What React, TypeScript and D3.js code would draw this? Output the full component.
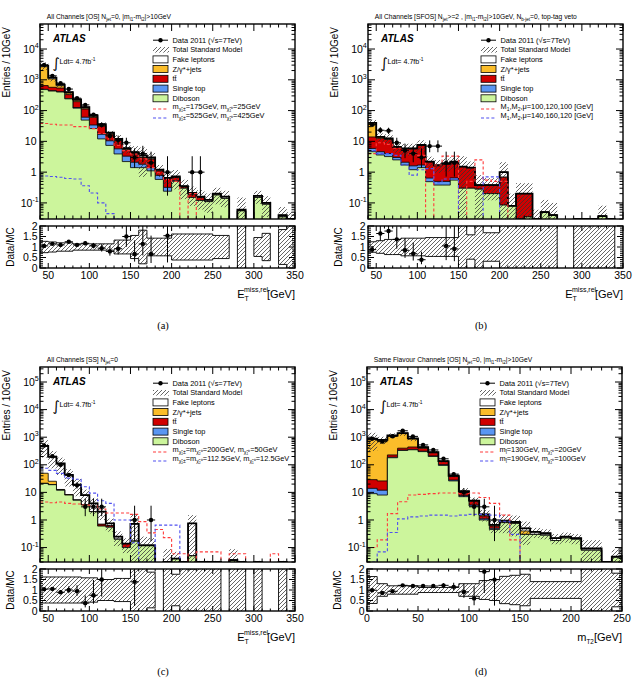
import React from 'react';
import * as d3 from 'd3';

const FONT = '"Liberation Sans", Arial, Helvetica, sans-serif';
const SERIF = '"Liberation Serif", "DejaVu Serif", serif';
const BIN = 10;

const FILL = {
  diboson: '#ccf59c',
  singletop: '#5a96f2',
  ttbar: '#d00000',
  zjets: '#fbbd2a',
  fake: '#ffffff',
};
const SIG1 = '#ff3b3b';
const SIG2 = '#5050f0';

// ---------- (a) All channels OS, Njet=0 : E_T^miss,rel, 40..350 GeV ----------
const aDiboson = [480, 430, 400, 240, 120, 49, 26, 12, 7.4, 3.9, 2.2, 1.4, 1.4, 1.1, 0.58, 0.24, 0.5, 0.3, 0.15, 0.12, 0.11, 0.18, 0.14, 0, 0.055, 0, 0.15, 0.09, 0, 0.035, 0.005];
const aSingleTop = [10, 10, 9, 7, 6, 12, 8, 5, 3, 1.8, 1.1, 0.7, 0.4, 0.3, 0.2, 0.08, 0.03, 0, 0, 0, 0, 0, 0, 0, 0, 0, 0, 0, 0, 0, 0];
const aTtbar = [160, 130, 131, 83, 69, 51, 26, 14, 6.1, 4.8, 2.0, 1.9, 1.2, 1.25, 0.32, 0.28, 0.14, 0.03, 0.04, 0.03, 0, 0, 0, 0, 0, 0, 0, 0, 0, 0, 0];
const aZjets = [2000, 500, 100, 40, 20, 8, 4, 2, 1, 0.5, 0.2, 0.1, 0.1, 0.05, 0, 0, 0, 0, 0, 0, 0, 0, 0, 0, 0, 0, 0, 0, 0, 0, 0];
const aFake = [250, 100, 60, 30, 15, 10, 6, 3, 1.5, 1, 0.5, 0.4, 0.4, 0.3, 0.1, 0.05, 0.05, 0.02, 0.02, 0.01, 0.015, 0.02, 0.02, 0, 0.005, 0, 0.02, 0.01, 0, 0.005, 0.005];
const aRel = [0.27, 0.24, 0.2, 0.2, 0.15, 0.15, 0.15, 0.15, 0.15, 0.33, 0.33, 0.55, 0.8, 0.42, 0.42, 0.42, 0.62, 0.62, 0.62, 0.62, 0.62, 0.55, 0.55, 0, 1.5, 0, 0.45, 0.65, 0, 0.83, 4];
const aData = [3050, 1345, 770, 500, 253, 153, 74, 34, 15, 11, 9, 3, 4, 2, 0, 1, 0, 0, 1, 1, 0, 0, 0, 0, 0, 0, 0, 0, 0, 0, 0];
const aSig1 = [38, 36, 34, 34, 30, 30, 26, 18, 12, 7.4, 5, 3.9, 2.7, 1.4, 0.95, 0.58, 0.5, 0, 0.2, 0, 0, 0, 0, 0, 0, 0, 0, 0, 0, 0, 0];
const aSig2 = [0.75, 0.72, 0.68, 0.62, 0.6, 0.36, 0.21, 0.1, 0.045, 0.02, 0, 0, 0, 0, 0, 0, 0, 0, 0, 0, 0, 0, 0, 0, 0, 0, 0, 0, 0, 0, 0];

// ---------- (b) SFOS, Njet>=2 : E_T^miss,rel ----------
const bDiboson = [4.6, 3.6, 3.2, 2.5, 1.7, 1.2, 1.4, 0.49, 0.38, 0.38, 0.55, 0.3, 0.3, 0.28, 0.2, 0.2, 0.085, 0.08, 0.03, 0.035, 0, 0.05, 0.04, 0, 0, 0, 0, 0, 0.037, 0, 0];
const bSingleTop = [1.3, 1.0, 0.8, 0.5, 0.4, 0.4, 0.3, 0.15, 0.12, 0.12, 0.1, 0, 0, 0, 0, 0, 0, 0, 0, 0, 0, 0, 0, 0, 0, 0, 0, 0, 0, 0, 0];
const bTtbar = [8, 8, 7.5, 3.3, 3.6, 4.1, 5.7, 1.5, 1.1, 1.3, 1.45, 1.2, 1.1, 0.1, 0.18, 0.18, 0.6, 0, 0.17, 0.165, 0, 0, 0, 0, 0, 0, 0, 0, 0, 0, 0];
const bZjets = [26, 1.2, 0.8, 0.2, 0.1, 0, 0, 0, 0, 0, 0, 0, 0, 0, 0, 0, 0, 0, 0, 0, 0, 0, 0, 0, 0, 0, 0, 0, 0, 0, 0];
const bFake = [0.1, 0.2, 0.2, 0.1, 0.1, 0.2, 0.2, 0.06, 0.1, 0.1, 0.1, 0, 0, 0, 0, 0, 0.315, 0, 0, 0, 0.01, 0, 0, 0, 0, 0.005, 0.005, 0.005, 0, 0.005, 0];
const bRel = [0.25, 0.3, 0.36, 0.36, 0.42, 0.42, 0.42, 0.45, 0.45, 0.45, 0.45, 1.2, 0.58, 1.1, 0.68, 0.68, 1.1, 1.5, 1.2, 1.2, 5, 1.5, 1.5, 0, 0, 5, 5, 5, 1.2, 5, 0];
const bData = [35, 23, 22, 9, 5, 4, 3, 7, 7, 2, 2, 0, 0, 0, 0, 0, 0, 0, 0, 0, 0, 0, 0, 0, 0, 0, 0, 0, 0, 0, 0];
const bSig1 = [4, 9, 8, 6, 5, 4, 3.5, 0, 1.7, 3.3, 3.3, 0, 0.5, 2.5, 0.55, 0.5, 0.5, 0, 0, 0, 0, 0, 0, 0, 0, 0, 0, 0, 0, 0, 0];
const bSig2 = [5, 4, 4, 3.5, 1.7, 0.8, 1.2, 1.3, 0.45, 0.6, 0.6, 0, 0, 0, 0.7, 0.7, 0, 0, 0, 0, 0, 0, 0, 0, 0, 0, 0, 0, 0, 0, 0];

// ---------- (c) SS, Njet=0 : E_T^miss,rel ----------
const cDiboson = [21, 19, 12, 8, 5.2, 3.5, 2, 0.6, 0.55, 0.2, 0.1, 0.17, 0.12, 0.12, 0, 0, 0.04, 0, 0.05, 0, 0, 0, 0, 0.035, 0, 0, 0, 0, 0, 0, 0];
const cSingleTop = [0.1, 0.1, 0.05, 0.05, 0, 0, 0, 0, 0, 0, 0, 0, 0, 0, 0, 0, 0, 0, 0, 0, 0, 0, 0, 0, 0, 0, 0, 0, 0, 0, 0];
const cTtbar = [0.3, 0.2, 0.2, 0.1, 0.1, 0, 0, 0.1, 0.08, 0, 0.04, 0, 0, 0, 0, 0, 0, 0, 0, 0, 0, 0, 0, 0, 0, 0, 0, 0, 0, 0, 0];
const cZjets = [28, 6, 0.5, 0, 0, 0, 0, 0, 0, 0, 0, 0, 0, 0, 0, 0, 0, 0, 0, 0, 0, 0, 0, 0, 0, 0, 0, 0, 0, 0, 0];
const cFake = [430.6, 169.7, 99.25, 34.85, 13.7, 4.5, 2, 1.3, 0.12, 0.05, 0, 0.55, 0, 0, 0, 0.008, 0, 0.003, 0.7, 0.003, 0.003, 0.003, 0, 0, 0.003, 0, 0.003, 0, 0, 0.003, 0];
const cRel = [0.62, 0.62, 0.62, 0.62, 0.62, 0.58, 0.58, 0.5, 0.5, 0.55, 0.55, 1.2, 1.1, 0.85, 0, 10, 0.75, 10, 1.0, 10, 10, 10, 0, 1.5, 10, 0, 10, 0, 0, 10, 0];
const cData = [500, 205, 100, 43, 18, 3, 3, 3, 0, 0, 0, 1, 0, 1, 0, 0, 0, 0, 0, 0, 0, 0, 0, 0, 0, 0, 0, 0, 0, 0, 0];
const cSig1 = [4.5, 4.2, 4.5, 4, 3.8, 3.5, 3.2, 2.5, 1.8, 1.8, 1.8, 1.6, 0.87, 0.34, 0.45, 0.23, 0.06, 0.06, 0, 0.07, 0.07, 0.07, 0, 0.06, 0.06, 0, 0, 0, 0.06, 0, 0];
const cSig2 = [75, 63, 49, 33, 30, 16, 9.4, 5, 4, 1, 1, 0.15, 0.02, 0.02, 0.65, 0.65, 0.65, 0, 0, 0, 0, 0, 0, 0, 0, 0, 0, 0, 0, 0, 0];

// ---------- (d) SF OS, Njet=0 : m_T2, 0..250 GeV ----------
const dDiboson = [9, 8, 180, 330, 350, 300, 200, 95, 26, 7, 3.2, 1.0, 0.45, 0.8, 0.75, 0.3, 0.3, 0.28, 0.18, 0.22, 0.2, 0.08, 0.08, 0, 0.045];
const dSingleTop = [5, 4, 8, 10, 12, 12, 10, 6, 2, 0.6, 0.3, 0.1, 0.05, 0, 0, 0, 0, 0, 0, 0, 0, 0, 0, 0, 0];
const dTtbar = [15, 14, 40, 60, 80, 80, 60, 30, 10, 3, 1.3, 0.3, 0.1, 0.05, 0.05, 0, 0, 0, 0, 0, 0, 0, 0, 0, 0];
const dZjets = [800, 725, 900, 950, 420, 30, 10, 2, 1, 0.2, 0, 0, 0, 0, 0, 0.1, 0, 0, 0, 0, 0, 0, 0, 0, 0];
const dFake = [51, 49, 22, 50, 38, 18, 10, 2, 1, 0.2, 0.2, 0.2, 0.07, 0.1, 0.05, 0.1, 0.07, 0.05, 0.04, 0.03, 0.02, 0.013, 0.013, 0.005, 0.002];
const dRel = [0.64, 0.3, 0.2, 0.2, 0.2, 0.12, 0.12, 0.12, 0.12, 0.3, 0.3, 0.45, 0.5, 0.65, 0.7, 0.75, 0.4, 0.4, 0.4, 0.4, 0.4, 1.0, 1.0, 3, 0.8];
const dData = [870, 690, 1080, 1710, 1070, 525, 345, 165, 46, 10, 3, 3, 1, 0, 0, 0, 0, 0, 0, 0, 0, 0, 0, 0, 0];
const dSig1 = [0.1, 0.19, 1.7, 4.6, 8, 8.5, 9, 9.5, 9.5, 9, 9.5, 6.5, 4, 1.5, 0.19, 0, 0, 0, 0, 0, 0, 0, 0, 0, 0];
const dSig2 = [0.02, 0.07, 0.35, 1.1, 1.3, 1.4, 1.5, 1.5, 1.4, 1.5, 1.6, 1.6, 1.5, 0.9, 0.3, 0, 0, 0, 0, 0, 0, 0, 0, 0, 0];

type Seg = string | { sub?: string; sup?: string };

const LEGEND_MAIN = ['Data 2011 (\u221As=7TeV)', 'Total Standard Model', 'Fake leptons', 'Z/\u03B3*+jets', 't\u0074\u0304', 'Single top', 'Diboson'];
const LEGEND_KEYS = ['', '', 'fake', 'zjets', 'ttbar', 'singletop', 'diboson'];

const panels = [
  {
    id: 'a', L: 40, R: 295, T: 24, B: 219, RT: 226, RB: 268, xMin: 40, xMax: 350, yMin: 0.03, yMax: 6.5e4,
    diboson: aDiboson, singletop: aSingleTop, ttbar: aTtbar, zjets: aZjets, fake: aFake, rel: aRel, data: aData, sig1: aSig1, sig2: aSig2,
    title: ['All Channels [OS] N', { sub: 'jet' }, '=0, |m', { sub: 'l1' }, '-m', { sub: 'l2' }, '|>10GeV'] as Seg[],
    sig1Label: ['m', { sub: '\u03C7\u0303\u2081\u00B1' }, '=175GeV, m', { sub: '\u03C7\u0303\u2081\u2070' }, '=25GeV'] as Seg[],
    sig2Label: ['m', { sub: '\u03C7\u0303\u2081\u00B1' }, '=525GeV, m', { sub: '\u03C7\u0303\u2081\u2070' }, '=425GeV'] as Seg[],
    mt2: false, caption: '(a)', capX: 163, capY: 329,
  },
  {
    id: 'b', L: 368, R: 623, T: 24, B: 219, RT: 226, RB: 268, xMin: 40, xMax: 350, yMin: 0.03, yMax: 6.5e4,
    diboson: bDiboson, singletop: bSingleTop, ttbar: bTtbar, zjets: bZjets, fake: bFake, rel: bRel, data: bData, sig1: bSig1, sig2: bSig2,
    title: ['All Channels [SFOS] N', { sub: 'jet' }, '>=2 , |m', { sub: 'l1' }, '-m', { sub: 'l2' }, '|>10GeV, N', { sub: 'b-jet' }, '=0, top-tag veto'] as Seg[],
    sig1Label: ['M', { sub: '1' }, ',M', { sub: '2' }, ',\u03BC=100,120,100 [GeV]'] as Seg[],
    sig2Label: ['M', { sub: '1' }, ',M', { sub: '2' }, ',\u03BC=140,160,120 [GeV]'] as Seg[],
    mt2: false, caption: '(b)', capX: 481, capY: 329,
  },
  {
    id: 'c', L: 40, R: 295, T: 367, B: 562, RT: 569, RB: 611, xMin: 40, xMax: 350, yMin: 0.03, yMax: 3.5e5,
    diboson: cDiboson, singletop: cSingleTop, ttbar: cTtbar, zjets: cZjets, fake: cFake, rel: cRel, data: cData, sig1: cSig1, sig2: cSig2,
    title: ['All Channels [SS] N', { sub: 'jet' }, '=0'] as Seg[],
    sig1Label: ['m', { sub: '\u03C7\u0303\u2081\u00B1' }, '=m', { sub: '\u03C7\u0303\u2082\u2070' }, '=200GeV, m', { sub: '\u03C7\u0303\u2081\u2070' }, '=50GeV'] as Seg[],
    sig2Label: ['m', { sub: '\u03C7\u0303\u2081\u00B1' }, '=m', { sub: '\u03C7\u0303\u2082\u2070' }, '=112.5GeV, m', { sub: '\u03C7\u0303\u2081\u2070' }, '=12.5GeV'] as Seg[],
    mt2: false, caption: '(c)', capX: 163, capY: 675,
  },
  {
    id: 'd', L: 367, R: 622, T: 367, B: 562, RT: 569, RB: 611, xMin: 0, xMax: 250, yMin: 0.03, yMax: 3.5e5,
    diboson: dDiboson, singletop: dSingleTop, ttbar: dTtbar, zjets: dZjets, fake: dFake, rel: dRel, data: dData, sig1: dSig1, sig2: dSig2,
    title: ['Same Flavour Channels [OS] N', { sub: 'jet' }, '=0, |m', { sub: 'l1' }, '-m', { sub: 'l2' }, '|>10GeV'] as Seg[],
    sig1Label: ['m', { sub: 'l\u0303' }, '=130GeV, m', { sub: '\u03C7\u0303\u2081\u2070' }, '=20GeV'] as Seg[],
    sig2Label: ['m', { sub: 'l\u0303' }, '=190GeV, m', { sub: '\u03C7\u0303\u2081\u2070' }, '=100GeV'] as Seg[],
    mt2: true, caption: '(d)', capX: 481, capY: 675,
  },
];

// Approximate 68% Poisson interval (Wilson–Hilferty form of Garwood limits)
const poisLo = (n: number) => (n <= 0 ? 0 : n * Math.pow(1 - 1 / (9 * n) - 1 / (3 * Math.sqrt(n)), 3));
const poisHi = (n: number) => (n + 1) * Math.pow(1 - 1 / (9 * (n + 1)) + 1 / (3 * Math.sqrt(n + 1)), 3);

function Rich({ x, y, segs, size, anchor = 'start', fill = '#000', ...rest }: any) {
  let shift = 0;
  const parts = segs.map((s: Seg, i: number) => {
    if (typeof s === 'string') {
      const el = <tspan key={i} dy={-shift} fontSize={size}>{s}</tspan>;
      shift = 0;
      return el;
    }
    if (s.sub !== undefined) {
      const d = size * 0.32;
      const el = <tspan key={i} dy={d - shift} fontSize={size * 0.68}>{s.sub}</tspan>;
      shift = d;
      return el;
    }
    const d = -size * 0.42;
    const el = <tspan key={i} dy={d - shift} fontSize={size * 0.68}>{s.sup}</tspan>;
    shift = d;
    return el;
  });
  return (
    <text x={x} y={y} textAnchor={anchor} fontFamily={FONT} fill={fill} {...rest}>
      {parts}
    </text>
  );
}

function Panel({ p }: { p: any }) {
  const { L, R, T, B, RT, RB, xMin, xMax, yMin, yMax } = p;
  const nb = p.diboson.length;
  const edges = d3.range(nb + 1).map((i) => xMin + i * BIN);
  const x = d3.scaleLinear().domain([xMin, xMax]).range([L, R]);
  const y = d3.scaleLog().domain([yMin, yMax]).range([B, T]).clamp(true);
  const yr = d3.scaleLinear().domain([0, 2]).range([RB, RT]);
  const below = B + 3;
  const yv = (v: number) => (v > 0 ? y(v) : below);

  const keys = ['diboson', 'singletop', 'ttbar', 'zjets', 'fake'];
  const table = d3.range(nb).map((i) => {
    const row: any = {};
    keys.forEach((k) => (row[k] = p[k][i]));
    return row;
  });
  const series = d3.stack().keys(keys)(table);
  const total = series[series.length - 1].map((d) => d[1]);

  const stepArea = (vals: number[]) => {
    let d = `M${x(edges[0])},${below}`;
    vals.forEach((v, i) => {
      d += `L${x(edges[i])},${yv(v)}L${x(edges[i + 1])},${yv(v)}`;
    });
    return d + `L${x(edges[nb])},${below}Z`;
  };
  const stepLine = (vals: number[]) => {
    let d = '';
    vals.forEach((v, i) => {
      d += `${i === 0 ? 'M' : 'L'}${x(edges[i])},${yv(v)}L${x(edges[i + 1])},${yv(v)}`;
    });
    return d;
  };

  // ticks
  const xMajors = d3.range(Math.ceil(xMin / 50) * 50, xMax + 0.01, 50);
  const xMinors = d3.range(Math.ceil(xMin / 10) * 10, xMax + 0.01, 10).filter((v) => v % 50 !== 0);
  const e0 = Math.ceil(Math.log10(yMin) - 1e-9);
  const e1 = Math.floor(Math.log10(yMax) + 1e-9);
  const decades = d3.range(e0, e1 + 1);
  const yMinors: number[] = [];
  for (let e = e0 - 1; e <= e1; e++) {
    for (let k = 2; k <= 9; k++) {
      const v = k * Math.pow(10, e);
      if (v >= yMin && v <= yMax) yMinors.push(v);
    }
  }
  let mt = '';
  xMajors.forEach((v) => { const X = x(v); mt += `M${X},${B}v-7M${X},${T}v7`; });
  xMinors.forEach((v) => { const X = x(v); mt += `M${X},${B}v-3.5M${X},${T}v3.5`; });
  decades.forEach((e) => { const Y = y(Math.pow(10, e)); mt += `M${L},${Y}h7M${R},${Y}h-7`; });
  yMinors.forEach((v) => { const Y = y(v); mt += `M${L},${Y}h3.5M${R},${Y}h-3.5`; });

  const rMajors = [0, 0.5, 1, 1.5, 2];
  const rMinors = d3.range(1, 20).map((k) => k / 10).filter((v) => Math.abs(v * 2 - Math.round(v * 2)) > 1e-6);
  let rt = '';
  xMajors.forEach((v) => { const X = x(v); rt += `M${X},${RB}v-5M${X},${RT}v5`; });
  xMinors.forEach((v) => { const X = x(v); rt += `M${X},${RB}v-2.5M${X},${RT}v2.5`; });
  rMajors.forEach((v) => { const Y = yr(v); rt += `M${L},${Y}h6M${R},${Y}h-6`; });
  rMinors.forEach((v) => { const Y = yr(v); rt += `M${L},${Y}h3M${R},${Y}h-3`; });

  // ratio band runs
  const runs: number[][] = [];
  let cur: number[] | null = null;
  for (let i = 0; i < nb; i++) {
    if (total[i] > 0 && p.rel[i] > 0) {
      if (!cur) { cur = []; runs.push(cur); }
      cur.push(i);
    } else cur = null;
  }
  const bandPath = (run: number[]) => {
    const f = run[0];
    let d = `M${x(edges[f])},${yr(1 - p.rel[f])}`;
    run.forEach((i) => { d += `L${x(edges[i])},${yr(1 + p.rel[i])}L${x(edges[i + 1])},${yr(1 + p.rel[i])}`; });
    [...run].reverse().forEach((i) => { d += `L${x(edges[i + 1])},${yr(1 - p.rel[i])}L${x(edges[i])},${yr(1 - p.rel[i])}`; });
    return d + 'Z';
  };

  const mid = (i: number) => x(edges[i] + BIN / 2);
  const clipM = `clipm-${p.id}`;
  const clipR = `clipr-${p.id}`;

  const layerOrder = [4, 3, 2, 1, 0];

  // legend geometry
  const sx = L + 113;
  const tx = L + 132.5;
  const rows = [16.2, 25.8, 35.4, 45, 54.8, 64.6, 74.3].map((v) => T + v);
  const sigRows = [T + 84, T + 93];

  return (
    <g>
      <defs>
        <clipPath id={clipM}><rect x={L} y={T} width={R - L} height={B - T} /></clipPath>
        <clipPath id={clipR}><rect x={L} y={RT} width={R - L} height={RB - RT} /></clipPath>
      </defs>

      {/* title */}
      <Rich x={L + 6.7} y={T - 5} segs={p.title} size={6.7} />

      {/* main histogram stack */}
      <g clipPath={`url(#${clipM})`}>
        {layerOrder.map((k) => (
          <path key={k} d={stepArea(series[k].map((d) => d[1]))} fill={(FILL as any)[keys[k]]} stroke="#000" strokeWidth={0.8} />
        ))}
        {total.map((t, i) => {
          const r = p.rel[i];
          if (!(t > 0 && r > 0)) return null;
          const hi = y(t * (1 + r));
          const lo = t * (1 - r) > 0 ? y(t * (1 - r)) : B;
          return <rect key={i} x={x(edges[i])} width={x(edges[i + 1]) - x(edges[i])} y={hi} height={Math.max(0, lo - hi)} fill="url(#hatch)" />;
        })}
        <path d={stepLine(total)} fill="none" stroke="#000" strokeWidth={1.8} />
        <path d={stepLine(p.sig1)} fill="none" stroke={SIG1} strokeWidth={1.1} strokeDasharray="3,2.2" />
        <path d={stepLine(p.sig2)} fill="none" stroke={SIG2} strokeWidth={1.1} strokeDasharray="3,2.2" />
        {p.data.map((n: number, i: number) => {
          if (n <= 0) return null;
          const cx = mid(i);
          return (
            <g key={i}>
              <line x1={cx} x2={cx} y1={y(poisHi(n))} y2={poisLo(n) > 0 ? y(poisLo(n)) : B} stroke="#000" strokeWidth={1} />
              <line x1={x(edges[i])} x2={x(edges[i + 1])} y1={y(n)} y2={y(n)} stroke="#000" strokeWidth={1} />
              <circle cx={cx} cy={y(n)} r={2.2} fill="#000" />
            </g>
          );
        })}
      </g>
      <rect x={L} y={T} width={R - L} height={B - T} fill="none" stroke="#000" strokeWidth={1.4} />
      <path d={mt} stroke="#000" strokeWidth={1} fill="none" />

      {/* main y labels */}
      {decades.map((e) => {
        const Y = y(Math.pow(10, e)) + 3.7;
        if (e === 0 || e === 1) {
          return <text key={e} x={L - 3.5} y={Y} textAnchor="end" fontFamily={FONT} fontSize={10.5}>{e === 0 ? '1' : '10'}</text>;
        }
        return <Rich key={e} x={L - 1.2} y={Y} anchor="end" size={10.5} segs={['10', { sup: String(e) }]} />;
      })}

      {/* ATLAS label and luminosity */}
      <text x={L + 13} y={T + 18} fontFamily={FONT} fontStyle="italic" fontWeight="bold" fontSize={10}>ATLAS</text>
      <text x={L + 12.5} y={T + 44} fontFamily='"DejaVu Sans", sans-serif' fontSize={14}>{'\u222B'}</text>
      <Rich x={L + 19.5} y={T + 40} size={7.1} segs={['Ldt= 4.7fb', { sup: '-1' }]} />

      {/* legend */}
      <g>
        <line x1={sx} x2={sx + 15} y1={rows[0]} y2={rows[0]} stroke="#000" strokeWidth={1} />
        <circle cx={sx + 7.5} cy={rows[0]} r={2.2} fill="#000" />
        <rect x={sx} y={rows[1] - 2.8} width={16} height={5.6} fill="url(#hatch)" />
        {[2, 3, 4, 5, 6].map((r) => (
          <rect key={r} x={sx} y={rows[r] - 3.5} width={15} height={7} fill={(FILL as any)[LEGEND_KEYS[r]]} stroke="#000" strokeWidth={0.8} />
        ))}
        {LEGEND_MAIN.map((t, r) => (
          <text key={t} x={tx} y={rows[r] + 2.6} fontFamily={FONT} fontSize={7.4}>{t}</text>
        ))}
        <line x1={sx} x2={sx + 15} y1={sigRows[0] + 1} y2={sigRows[0] + 1} stroke={SIG1} strokeWidth={1.1} strokeDasharray="3,2.2" />
        <line x1={sx} x2={sx + 15} y1={sigRows[1] + 1} y2={sigRows[1] + 1} stroke={SIG2} strokeWidth={1.1} strokeDasharray="3,2.2" />
        <Rich x={tx} y={sigRows[0] + 1} size={7.4} segs={p.sig1Label} />
        <Rich x={tx} y={sigRows[1] + 1} size={7.4} segs={p.sig2Label} />
      </g>

      {/* y axis title */}
      <text transform={`translate(${L - 30},${T + 3}) rotate(-90)`} textAnchor="end" fontFamily={FONT} fontSize={10}>Entries / 10GeV</text>

      {/* ratio panel */}
      <g clipPath={`url(#${clipR})`}>
        {runs.map((run, k) => (
          <path key={k} d={bandPath(run)} fill="url(#hatch)" stroke="#000" strokeWidth={0.9} />
        ))}
        {p.data.map((n: number, i: number) => {
          const t = total[i];
          if (n <= 0 || !(t > 0)) return null;
          const r = n / t;
          if (r > 2) return null;
          const cx = mid(i);
          return (
            <g key={i}>
              <line x1={cx} x2={cx} y1={yr(poisHi(n) / t)} y2={yr(poisLo(n) / t)} stroke="#000" strokeWidth={1} />
              <line x1={x(edges[i])} x2={x(edges[i + 1])} y1={yr(r)} y2={yr(r)} stroke="#000" strokeWidth={1} />
              <circle cx={cx} cy={yr(r)} r={2.2} fill="#000" />
            </g>
          );
        })}
      </g>
      <rect x={L} y={RT} width={R - L} height={RB - RT} fill="none" stroke="#000" strokeWidth={1.4} />
      <path d={rt} stroke="#000" strokeWidth={1} fill="none" />
      {rMajors.map((v) => (
        <text key={v} x={L - 2.5} y={yr(v) + 3.7} textAnchor="end" fontFamily={FONT} fontSize={10.5}>{String(v)}</text>
      ))}
      {xMajors.map((v) => (
        <text key={v} x={x(v)} y={RB + 10.5} textAnchor="middle" fontFamily={FONT} fontSize={10.5}>{String(v)}</text>
      ))}
      <text transform={`translate(${L - 26},${(RT + RB) / 2}) rotate(-90)`} textAnchor="middle" fontFamily={FONT} fontSize={10}>Data/MC</text>

      {/* x axis title */}
      {p.mt2 ? (
        <g>
          <text x={R} y={RB + 30} textAnchor="end" fontFamily={FONT} fontSize={11}>[GeV]</text>
          <text x={R - 35.5} y={RB + 32.5} fontFamily={FONT} fontSize={6.3}>T2</text>
          <text x={R - 35.5} y={RB + 30} textAnchor="end" fontFamily={FONT} fontSize={11}>m</text>
        </g>
      ) : (
        <g>
          <text x={R} y={RB + 30} textAnchor="end" fontFamily={FONT} fontSize={11}>[GeV]</text>
          <text x={R - 51} y={RB + 23.5} fontFamily={FONT} fontSize={7}>miss,rel</text>
          <text x={R - 50.5} y={RB + 33} fontFamily={FONT} fontSize={7}>T</text>
          <text x={R - 50.5} y={RB + 30} textAnchor="end" fontFamily={FONT} fontSize={11}>E</text>
        </g>
      )}

      {/* caption */}
      <text x={p.capX} y={p.capY} textAnchor="middle" fontFamily={SERIF} fontSize={10.5}>{p.caption}</text>
    </g>
  );
}

export default function App() {
  return (
    <svg width={634} height={686} viewBox="0 0 634 686" style={{ position: 'absolute', left: 0, top: 0, background: '#fff' }}>
      <defs>
        <pattern id="hatch" patternUnits="userSpaceOnUse" width={4} height={4}>
          <path d="M-1,1L1,-1M0,4L4,0M3,5L5,3" stroke="#333" strokeWidth={0.75} />
        </pattern>
      </defs>
      <rect x={0} y={0} width={634} height={686} fill="#fff" />
      {panels.map((p) => (
        <Panel key={p.id} p={p} />
      ))}
    </svg>
  );
}
